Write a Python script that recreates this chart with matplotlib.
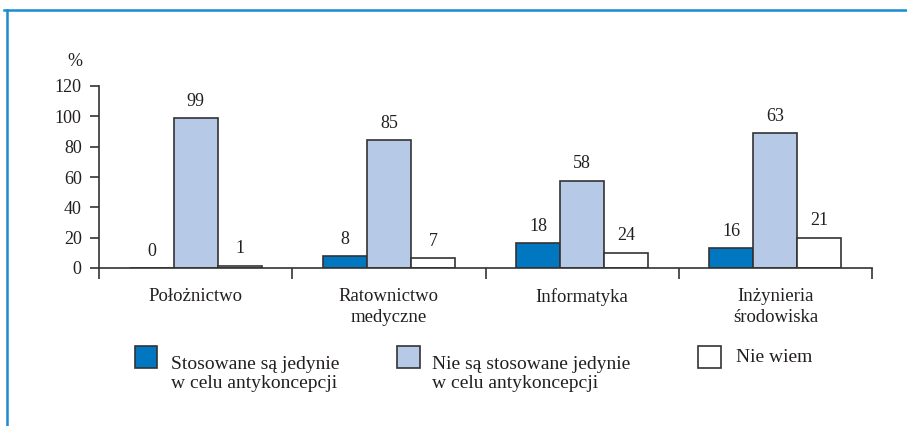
import matplotlib.pyplot as plt
import numpy as np
from matplotlib.patches import Rectangle
from matplotlib.lines import Line2D
from matplotlib.transforms import ScaledTranslation

plt.rcParams['font.family'] = ['Liberation Serif', 'DejaVu Serif']

# categories (study fields)
categories = ["Położnictwo", "Ratownictwo\nmedyczne", "Informatyka", "Inżynieria\nśrodowiska"]
series_names = ["Stosowane są jedynie\nw celu antykoncepcji",
                "Nie są stosowane jedynie\nw celu antykoncepcji",
                "Nie wiem"]

# bar heights as drawn in the picture
heights_used = [0, 8, 16.5, 13]
heights_not = [99, 84.5, 57.5, 89]
heights_dontknow = [1.5, 6.5, 10, 20]

# printed value labels
labels_used = [0, 8, 18, 16]
labels_not = [99, 85, 58, 63]
labels_dontknow = [1, 7, 24, 21]

colors = ["#0077c0", "#b6cae8", "#ffffff"]
text_col = "#231f20"
edge_col = "#333333"

W, H = 907, 426
fig = plt.figure(figsize=(W / 100, H / 100), dpi=100)
ax = fig.add_axes([99 / W, (H - 268) / H, (872 - 99) / W, 182 / H])

x = np.arange(len(categories))
bw = 0.228
series = [(heights_used, labels_used), (heights_not, labels_not), (heights_dontknow, labels_dontknow)]
for i, (hts, lbls) in enumerate(series):
    pos = x + (i - 1) * bw
    ax.bar(pos, hts, width=bw, color=colors[i], edgecolor=edge_col, linewidth=1.2, zorder=2)
    for px, h, lb in zip(pos, hts, lbls):
        ax.annotate(str(lb), (px, h), xytext=(0, 6), textcoords="offset points",
                    ha="center", va="bottom", fontsize=13, color=text_col)

ax.set_xlim(-0.5, 3.5)
ax.set_ylim(0, 120)
ax.set_yticks(range(0, 121, 20))
ax.set_xticks(x)
ax.set_xticklabels(categories, fontsize=13.5, color=text_col, linespacing=1.28)
shift = ScaledTranslation(5 / 100, 0, fig.dpi_scale_trans)
for lab in ax.get_xticklabels():
    lab.set_transform(lab.get_transform() + shift)
ax.set_xticks(np.arange(-0.5, 4, 1), minor=True)
ax.tick_params(axis="x", which="major", length=0, pad=14.5)
ax.tick_params(axis="x", which="minor", length=8, width=1.2, color=edge_col, direction="out")
ax.tick_params(axis="y", length=6.5, width=1.2, color=edge_col, pad=6, labelsize=13, labelcolor=text_col)
for s in ["top", "right"]:
    ax.spines[s].set_visible(False)
for s in ["left", "bottom"]:
    ax.spines[s].set_color(edge_col)
    ax.spines[s].set_linewidth(1.2)

fig.text(75 / W, 1 - 61 / H, "%", ha="center", va="center", fontsize=13, color=text_col)

# legend drawn by hand
leg_boxes = [134.5, 397, 698]
leg_texts_x = [171, 432, 736]
for i in range(3):
    fig.add_artist(Rectangle((leg_boxes[i] / W, 1 - 368 / H), 22.5 / W, 22 / H,
                             transform=fig.transFigure, facecolor=colors[i],
                             edgecolor=edge_col, linewidth=1.2))
    ty = 374 if "\n" in series_names[i] else 358
    fig.text(leg_texts_x[i] / W, 1 - ty / H, series_names[i], ha="left", va="center",
             fontsize=14, color=text_col, linespacing=1.2)

# frame
fig.add_artist(Line2D([4 / W, 1], [1 - 10 / H, 1 - 10 / H], transform=fig.transFigure,
                      color="#1a8ccf", linewidth=1.8))
fig.add_artist(Line2D([7 / W, 7 / W], [1 - 10 / H, 0], transform=fig.transFigure,
                      color="#1a8ccf", linewidth=1.8))

fig.savefig("out.png", dpi=100)
